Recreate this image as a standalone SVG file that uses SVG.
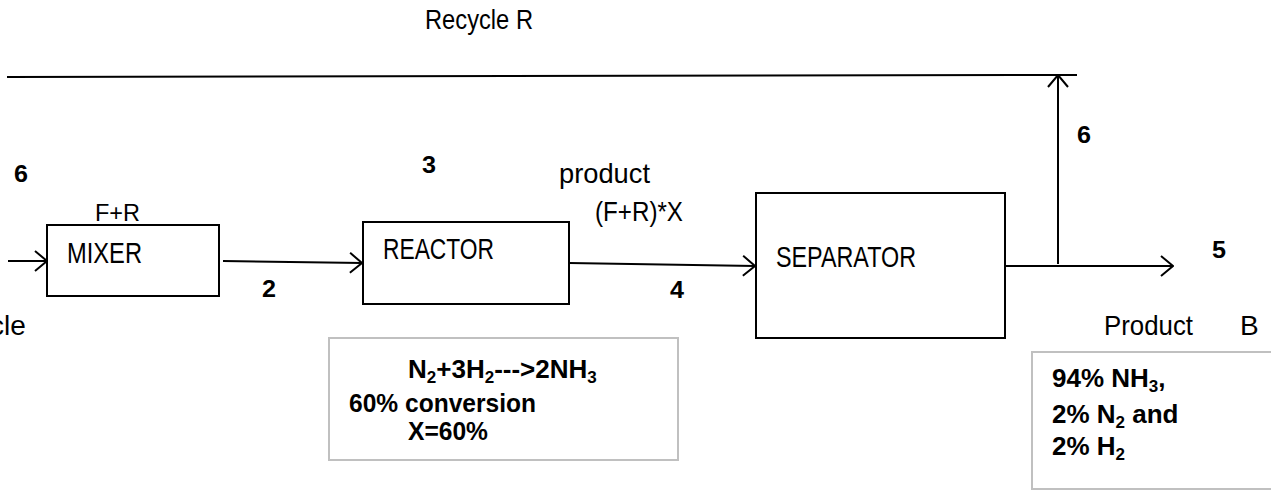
<svg xmlns="http://www.w3.org/2000/svg" width="1271" height="495" viewBox="0 0 1271 495">
<style>
text{font-family:"Liberation Sans Narrow","Liberation Sans",Arial,sans-serif;fill:#000}
.lbl{font-size:28px}
.unit{font-size:30px}
.num{font-size:24px;font-weight:bold}
.note{font-size:26px;font-weight:bold}
.sub{font-size:17px}
.box{fill:#fff;stroke:#000;stroke-width:2}
.nbox{fill:#fff;stroke:#c0c0c0;stroke-width:2}
.ln{fill:none;stroke:#000;stroke-width:2}
</style>
<defs>
<marker id="ah" viewBox="0 0 14 22" refX="13" refY="11" markerWidth="14" markerHeight="22" markerUnits="userSpaceOnUse" orient="auto">
<path d="M1,1 L13,11 L1,21" fill="none" stroke="#000" stroke-width="2"/>
</marker>
</defs>
<g id="connectors">
<line class="ln" x1="7" y1="77" x2="1077" y2="75"/>
<line class="ln" x1="8" y1="261" x2="47" y2="261" marker-end="url(#ah)"/>
<line class="ln" x1="223" y1="261" x2="362" y2="263" marker-end="url(#ah)"/>
<line class="ln" x1="569" y1="263" x2="755" y2="266" marker-end="url(#ah)"/>
<line class="ln" x1="1005" y1="266" x2="1173" y2="266" marker-end="url(#ah)"/>
<line class="ln" x1="1058" y1="264" x2="1058" y2="75" marker-end="url(#ah)"/>
</g>
<g id="labels">
<text class="lbl" x="425" y="29" textLength="108" lengthAdjust="spacingAndGlyphs">Recycle R</text>
<text class="num" x="14" y="182" textLength="14" lengthAdjust="spacingAndGlyphs">6</text>
<text style="font-size:24px" x="95" y="221" textLength="45" lengthAdjust="spacingAndGlyphs">F+R</text>
<text class="num" x="262" y="297" textLength="14" lengthAdjust="spacingAndGlyphs">2</text>
<text class="lbl" x="-10" y="335">cle</text>
<text class="num" x="422" y="173" textLength="14" lengthAdjust="spacingAndGlyphs">3</text>
<text class="lbl" x="559" y="183" textLength="91" lengthAdjust="spacingAndGlyphs">product</text>
<text class="lbl" x="595" y="221" textLength="88" lengthAdjust="spacingAndGlyphs">(F+R)*X</text>
<text class="num" x="670" y="298" textLength="14" lengthAdjust="spacingAndGlyphs">4</text>
<text class="num" x="1077" y="143" textLength="14" lengthAdjust="spacingAndGlyphs">6</text>
<text class="num" x="1212" y="258" textLength="14" lengthAdjust="spacingAndGlyphs">5</text>
<text class="lbl" x="1104" y="335" textLength="89" lengthAdjust="spacingAndGlyphs">Product</text>
<text class="lbl" x="1240" y="335">B</text>
</g>
<g id="mixer">
<rect class="box" x="47" y="225" width="172" height="71"/>
<text class="unit" x="67" y="263" textLength="75" lengthAdjust="spacingAndGlyphs">MIXER</text>
</g>
<g id="reactor">
<rect class="box" x="363" y="222" width="206" height="82"/>
<text class="unit" x="383" y="259" textLength="111" lengthAdjust="spacingAndGlyphs">REACTOR</text>
</g>
<g id="separator">
<rect class="box" x="756" y="193" width="249" height="145"/>
<text class="unit" x="776" y="267" textLength="140" lengthAdjust="spacingAndGlyphs">SEPARATOR</text>
</g>
<g id="reaction-note">
<rect class="nbox" x="329" y="338" width="349" height="122"/>
<text class="note" x="408" y="378">N<tspan class="sub" dy="5">2</tspan><tspan dy="-5">+3H</tspan><tspan class="sub" dy="5">2</tspan><tspan dy="-5">---&gt;2NH</tspan><tspan class="sub" dy="5">3</tspan></text>
<text class="note" x="349" y="412" textLength="187" lengthAdjust="spacingAndGlyphs">60% conversion</text>
<text class="note" x="408" y="440" textLength="80" lengthAdjust="spacingAndGlyphs">X=60%</text>
</g>
<g id="product-note">
<rect class="nbox" x="1032" y="352" width="260" height="137"/>
<text class="note" x="1052" y="387">94% NH<tspan class="sub" dy="5">3</tspan><tspan dy="-5">,</tspan></text>
<text class="note" x="1052" y="423">2% N<tspan class="sub" dy="5">2</tspan><tspan dy="-5"> and</tspan></text>
<text class="note" x="1052" y="455">2% H<tspan class="sub" dy="5">2</tspan></text>
</g>
</svg>
